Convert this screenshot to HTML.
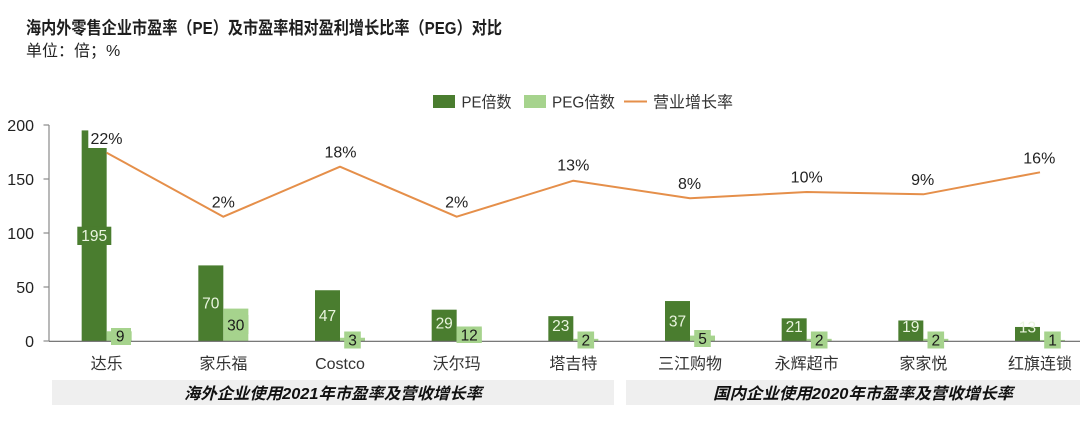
<!DOCTYPE html>
<html><head><meta charset="utf-8"><style>
html,body{margin:0;padding:0;background:#fff;}
svg{display:block;}
text{font-family:"Liberation Sans","Noto Sans CJK SC",sans-serif;}
</style></head><body>
<svg width="1080" height="421" viewBox="0 0 1080 421" xmlns="http://www.w3.org/2000/svg">
<rect width="1080" height="421" fill="#fff"/>
<text x="26" y="34" font-size="17.5" font-weight="bold" fill="#1e1e1e" textLength="476" lengthAdjust="spacingAndGlyphs">海内外零售企业市盈率（PE）及市盈率相对盈利增长比率（PEG）对比</text>
<text x="26" y="56" font-size="16" fill="#222">单位：倍；%</text>

<!-- legend -->
<rect x="433" y="95" width="22" height="13" fill="#4a7d2f"/>
<text x="461.5" y="107.5" font-size="16" fill="#333" textLength="50" lengthAdjust="spacingAndGlyphs">PE倍数</text>
<rect x="524" y="95" width="22" height="13" fill="#a6d38d"/>
<text x="552" y="107.5" font-size="16" fill="#333" textLength="63" lengthAdjust="spacingAndGlyphs">PEG倍数</text>
<line x1="624" y1="101.5" x2="647" y2="101.5" stroke="#e58f4a" stroke-width="2"/>
<text x="653" y="107.5" font-size="16" fill="#333" textLength="80" lengthAdjust="spacingAndGlyphs">营业增长率</text>

<!-- y axis -->
<line x1="49" y1="125" x2="49" y2="341" stroke="#8a8a8a" stroke-width="1.2"/>
<g stroke="#8a8a8a" stroke-width="1.2">
<line x1="43.5" y1="125" x2="49" y2="125"/>
<line x1="43.5" y1="179" x2="49" y2="179"/>
<line x1="43.5" y1="233" x2="49" y2="233"/>
<line x1="43.5" y1="287" x2="49" y2="287"/>
<line x1="43.5" y1="341" x2="49" y2="341"/>
</g>
<g font-size="16" fill="#222" text-anchor="end">
<text x="34" y="130.8">200</text>
<text x="34" y="184.8">150</text>
<text x="34" y="238.8">100</text>
<text x="34" y="292.8">50</text>
<text x="34" y="346.8">0</text>
</g>

<!-- PE bars -->
<g fill="#4a7d2f">
<rect x="81.67" y="130.4" width="25" height="210.6"/>
<rect x="198.33" y="265.4" width="25" height="75.6"/>
<rect x="315" y="290.24" width="25" height="50.76"/>
<rect x="431.67" y="309.68" width="25" height="31.32"/>
<rect x="548.33" y="316.16" width="25" height="24.84"/>
<rect x="665" y="301.04" width="25" height="39.96"/>
<rect x="781.67" y="318.32" width="25" height="22.68"/>
<rect x="898.33" y="320.48" width="25" height="20.52"/>
<rect x="1015" y="326.96" width="25" height="14.04"/>
</g>
<!-- PEG bars -->
<g fill="#a6d38d">
<rect x="106.67" y="331.28" width="25" height="9.72"/>
<rect x="223.33" y="308.6" width="25" height="32.4"/>
<rect x="340" y="337.76" width="25" height="3.24"/>
<rect x="456.67" y="328.04" width="25" height="12.96"/>
<rect x="573.33" y="338.84" width="25" height="2.16"/>
<rect x="690" y="335.6" width="25" height="5.4"/>
<rect x="806.67" y="338.84" width="25" height="2.16"/>
<rect x="923.33" y="338.84" width="25" height="2.16"/>
<rect x="1040" y="339.92" width="25" height="1.08"/>
</g>

<!-- x axis -->
<line x1="49" y1="341.3" x2="1080" y2="341.3" stroke="#666" stroke-width="1.2"/>

<!-- PEG label boxes -->
<g fill="#a6d38d">
<rect x="111" y="328" width="20" height="17"/>
<rect x="223.5" y="315" width="25" height="19"/>
<rect x="344.2" y="331.5" width="16.6" height="17"/>
<rect x="456.5" y="326.5" width="25.3" height="16.5"/>
<rect x="577.5" y="331.5" width="16.6" height="17"/>
<rect x="694.2" y="330" width="16.6" height="17"/>
<rect x="810.9" y="331.5" width="16.6" height="17"/>
<rect x="927.5" y="331.5" width="16.6" height="17"/>
<rect x="1044.2" y="331.5" width="16.6" height="17"/>
</g>
<g font-size="15.5" fill="#1a1a1a" text-anchor="middle">
<text x="120.2" y="341.6">9</text>
<text x="235.8" y="330.3">30</text>
<text x="352.5" y="345.5">3</text>
<text x="469.2" y="340.3">12</text>
<text x="585.8" y="345.5">2</text>
<text x="702.5" y="344">5</text>
<text x="819.2" y="345.5">2</text>
<text x="935.8" y="345.5">2</text>
<text x="1052.5" y="345.5">1</text>
</g>

<!-- PE labels -->
<rect x="77.3" y="226.7" width="34" height="18.3" fill="#4a7d2f"/>
<g font-size="15.5" fill="#eaf5df" text-anchor="middle">
<text x="94.2" y="241.2">195</text>
<text x="210.8" y="308.7">70</text>
<text x="327.5" y="321.1">47</text>
<text x="444.2" y="328.5">29</text>
<text x="560.8" y="330.8">23</text>
<text x="677.5" y="326.5">37</text>
<text x="794.2" y="332.2">21</text>
<text x="910.8" y="332.2">19</text>
<text x="1027.5" y="332.5">13</text>
</g>

<!-- growth line -->
<polyline fill="none" stroke="#e58f4a" stroke-width="2" stroke-linejoin="round" points="106.67,152.7 223.33,216.7 340,166.7 456.67,216.7 573.33,180.7 690,198.3 806.67,192 923.33,194.3 1040,172.3"/>
<rect x="88.3" y="129" width="36" height="19" fill="#fff"/>
<g font-size="16" fill="#222" text-anchor="middle">
<text x="106.5" y="143.8">22%</text>
<text x="223.3" y="207.4">2%</text>
<text x="340.5" y="157.4">18%</text>
<text x="456.7" y="207.4">2%</text>
<text x="573.3" y="170.7">13%</text>
<text x="689.5" y="189">8%</text>
<text x="806.7" y="182.4">10%</text>
<text x="922.7" y="185">9%</text>
<text x="1039.3" y="163.4">16%</text>
</g>

<!-- category labels -->
<g font-size="16" fill="#333" text-anchor="middle">
<text x="106.67" y="369">达乐</text>
<text x="223.33" y="369">家乐福</text>
<text x="340" y="369">Costco</text>
<text x="456.67" y="369">沃尔玛</text>
<text x="573.33" y="369">塔吉特</text>
<text x="690" y="369">三江购物</text>
<text x="806.67" y="369">永辉超市</text>
<text x="923.33" y="369">家家悦</text>
<text x="1040" y="369">红旗连锁</text>
</g>

<!-- group boxes -->
<rect x="52" y="380" width="562" height="25" fill="#efefef"/>
<rect x="626" y="380" width="474" height="25" fill="#efefef"/>
<g font-size="16" font-weight="bold" font-style="italic" fill="#111">
<text x="184" y="399" textLength="298" lengthAdjust="spacingAndGlyphs">海外企业使用2021年市盈率及营收增长率</text>
<text x="713" y="399" textLength="300" lengthAdjust="spacingAndGlyphs">国内企业使用2020年市盈率及营收增长率</text>
</g>
</svg>
</body></html>
